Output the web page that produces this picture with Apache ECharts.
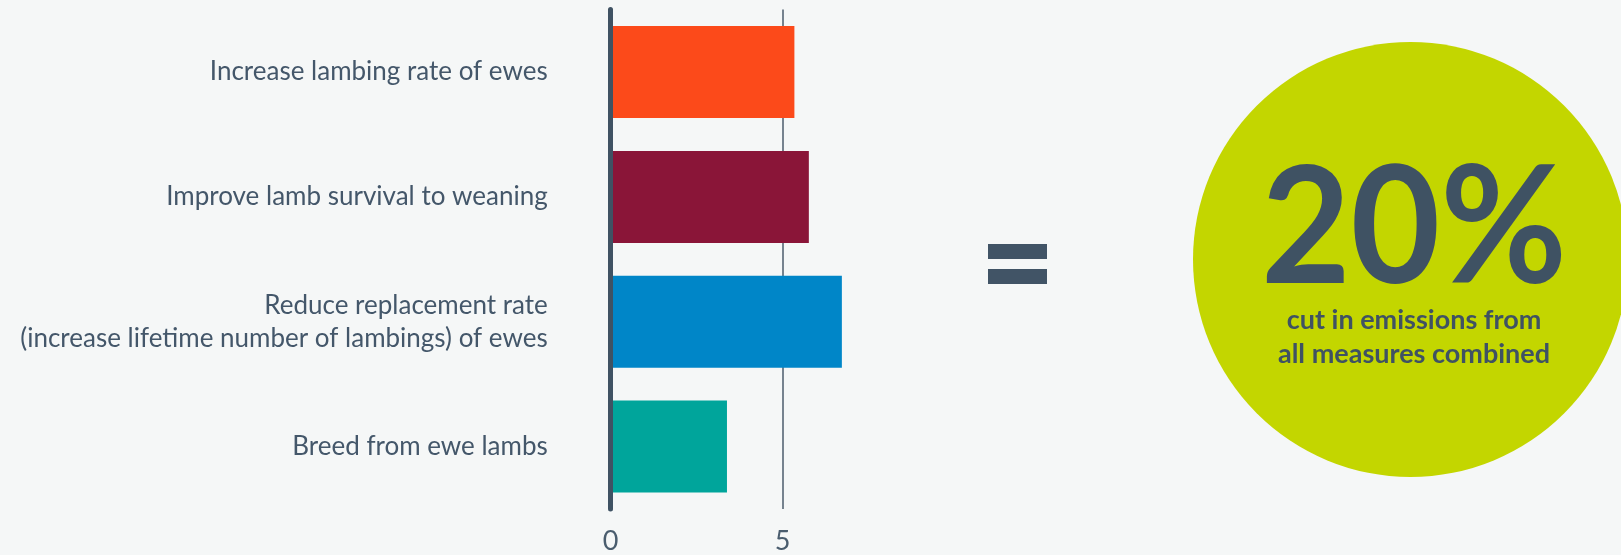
<!DOCTYPE html>
<html>
<head>
<meta charset="utf-8">
<script src="https://cdn.jsdelivr.net/npm/echarts@6/dist/echarts.min.js"></script>
<style>
html,body{margin:0;padding:0;background:#f5f7f7;}
#c{width:1621px;height:555px;}
</style>
</head>
<body>
<div id="c"></div>
<script>
// Data
var categories = [
  'Increase lambing rate of ewes',
  'Improve lamb survival to weaning',
  'Reduce replacement rate\n(increase lifetime number of lambings) of ewes',
  'Breed from ewe lambs'
];
var values = [5.34, 5.76, 6.72, 3.38];
var barColors = ['#fc4a1a', '#8a1538', '#0086c8', '#00a59b'];
var bigNumber = '20%';
var bigCaption = 'cut in emissions from\nall measures combined';

var textColor = '#3f5263';

var chart = echarts.init(document.getElementById('c'), null, {renderer: 'canvas'});
var option = {
  backgroundColor: '#f5f7f7',
  animation: false,
  grid: {left: 610.7, top: 9.6, bottom: 45.3, right: 666.3},
  xAxis: {
    type: 'value', min: 0, max: 10, interval: 5,
    axisLine: {show: false}, axisTick: {show: false},
    axisLabel: {color: '#4a5d6e', fontSize: 27, fontFamily: 'Lato', margin: 19, showMaxLabel: false},
    splitLine: {show: true, showMaxLine: false, showMinLine: false, lineStyle: {color: '#76838f', width: 2}}
  },
  yAxis: {
    type: 'category', inverse: true, data: categories, z: 10,
    axisLine: {show: true, lineStyle: {color: '#3f5263', width: 5}},
    axisTick: {show: false},
    axisLabel: {color: '#44576a', fontSize: 26, fontFamily: 'Lato', margin: 63, lineHeight: 33, align: 'right', padding: [7, 0, 0, 0]}
  },
  series: [{
    type: 'bar', barWidth: 92,
    data: values.map(function (v, i) { return {value: v, itemStyle: {color: barColors[i]}}; })
  }],
  graphic: [
    {type: 'rect', shape: {x: 988, y: 244, width: 59, height: 15}, style: {fill: '#415466'}},
    {type: 'rect', shape: {x: 988, y: 269, width: 59, height: 15}, style: {fill: '#415466'}},
    {type: 'circle', shape: {cx: 1410.5, cy: 259.5, r: 217.5}, style: {fill: '#c3d600'}},
    {type: 'text', x: 1414, y: 231, scaleX: 0.955, style: {text: bigNumber, fill: textColor, font: 'bold 162px Lato', align: 'center', verticalAlign: 'middle'}},
    {type: 'text', x: 1414, y: 337, style: {text: bigCaption, fill: textColor, font: 'bold 27px Lato', align: 'center', verticalAlign: 'middle', lineHeight: 34}}
  ]
};
chart.setOption(option);
</script>
</body>
</html>
